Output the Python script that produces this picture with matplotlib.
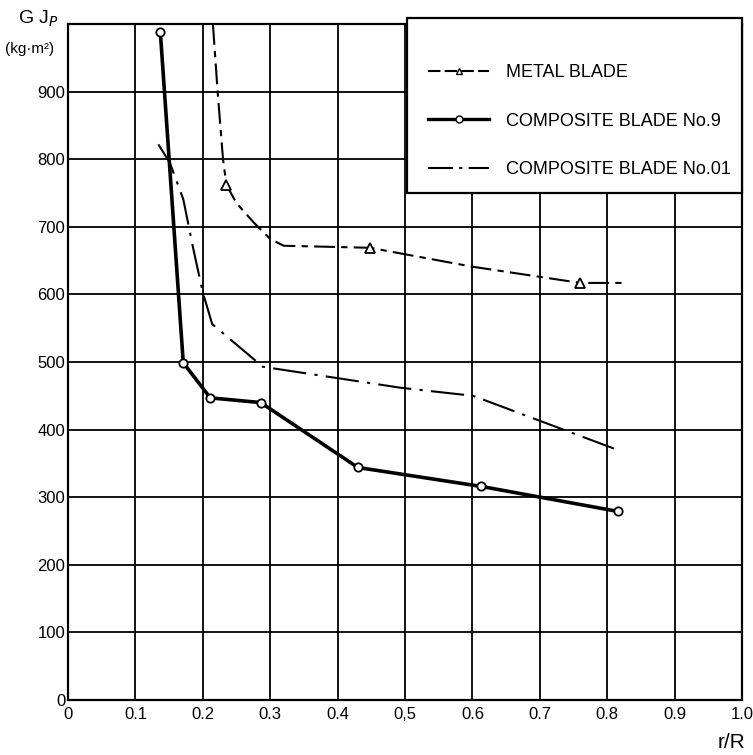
import matplotlib.pyplot as plt
from matplotlib.lines import Line2D
from matplotlib.patches import Rectangle

# r/R positions and GJp values
metal_x = [0.215, 0.222, 0.230, 0.235, 0.250, 0.275, 0.300, 0.320, 0.448, 0.600, 0.760, 0.826]
metal_y = [1000, 900, 800, 762, 735, 707, 682, 672, 669, 641, 617, 617]
metal_mark_x = [0.235, 0.448, 0.760]
metal_mark_y = [762, 669, 617]

comp9_x = [0.137, 0.171, 0.211, 0.286, 0.430, 0.613, 0.816]
comp9_y = [988, 499, 447, 440, 344, 316, 279]

comp01_x = [0.134, 0.151, 0.171, 0.186, 0.200, 0.214, 0.289, 0.493, 0.601, 0.810]
comp01_y = [822, 795, 741, 667, 603, 556, 493, 462, 450, 372]

xticks = [0, 0.1, 0.2, 0.3, 0.4, 0.5, 0.6, 0.7, 0.8, 0.9, 1.0]
xlabels = ["0", "0.1", "0.2", "0.3", "0.4", "0,5", "0.6", "0.7", "0.8", "0.9", "1.0"]
yticks = [0, 100, 200, 300, 400, 500, 600, 700, 800, 900]

plt.rcParams['font.family'] = ['Liberation Sans Narrow', 'Liberation Sans', 'DejaVu Sans']

fig = plt.figure(figsize=(7.53, 7.55), dpi=100)
ax = fig.add_axes([0.0903, 0.0728, 0.8951, 0.8954])

ax.set_xlim(0, 1.0)
ax.set_ylim(0, 1000)
ax.set_xticks(xticks)
ax.set_xticklabels(xlabels, fontsize=12)
ax.set_yticks(yticks)
ax.set_yticklabels([str(v) for v in yticks], fontsize=12)
ax.tick_params(axis="x", length=0, pad=5)
ax.tick_params(axis="y", length=0, pad=2)
ax.grid(True, color="black", linewidth=1.3)
for s in ax.spines.values():
    s.set_linewidth(1.6)

# curves
ax.plot(metal_x, metal_y, color="black", linewidth=1.5, dashes=(10, 3, 3, 3), zorder=3)
ax.plot(metal_mark_x, metal_mark_y, linestyle="none", marker="^", markersize=7,
        markerfacecolor="white", markeredgecolor="black", markeredgewidth=1.3, zorder=4)
ax.plot(comp9_x, comp9_y, color="black", linewidth=2.6, marker="o", markersize=6,
        markerfacecolor="white", markeredgecolor="black", markeredgewidth=1.3, zorder=3)
ax.plot(comp01_x, comp01_y, color="black", linewidth=1.5, dashes=(16, 4, 1.5, 4), zorder=3)

# legend box in the top right corner
box = Rectangle((0.503, 0.75), 0.497, 0.259, transform=ax.transAxes, facecolor="white",
                edgecolor="black", linewidth=1.6, zorder=5, clip_on=False)
ax.add_patch(box)
handles = [
    Line2D([0, 0.5, 1], [0, 0, 0], color="black", linewidth=1.5, marker="^", markersize=5,
           markerfacecolor="white", markevery=[1], dashes=(6, 2)),
    Line2D([0, 0.5, 1], [0, 0, 0], color="black", linewidth=2.4, marker="o", markersize=5,
           markerfacecolor="white", markevery=[1]),
    Line2D([0, 0.5, 1], [0, 0, 0], color="black", linewidth=1.5, dashes=(12, 3, 1.5, 3)),
]
labels = ["METAL BLADE", "COMPOSITE BLADE No.9", "COMPOSITE BLADE No.01"]
leg = ax.legend(handles, labels, loc="upper left", bbox_to_anchor=(0.51, 0.965),
                frameon=False, fontsize=13, handlelength=3.4, labelspacing=1.75,
                handletextpad=0.9)
leg.set_zorder(6)

# axis titles
fig.text(0.024, 0.975, "G J$_P$", fontsize=14, ha="left", va="center")
fig.text(0.006, 0.935, "(kg·m²)", fontsize=11, ha="left", va="center")
fig.text(0.972, 0.017, "r/R", fontsize=15, ha="center", va="center")

fig.savefig("out.png", dpi=100)
